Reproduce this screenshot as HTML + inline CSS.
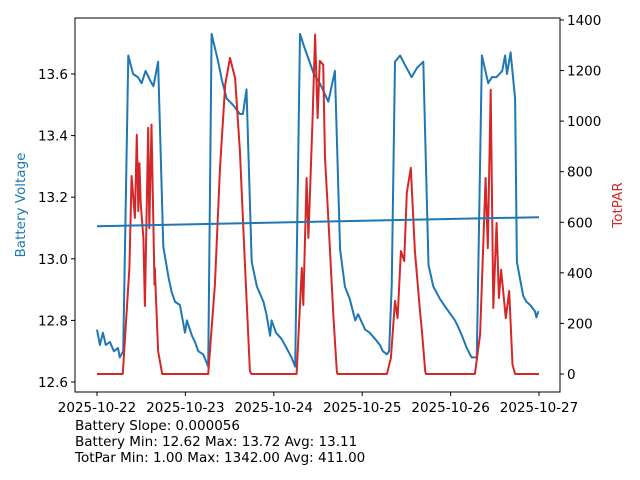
<!DOCTYPE html>
<html><head><meta charset="utf-8"><style>
body{margin:0;background:#fff;}
svg{display:block;font-family:"DejaVu Sans","Liberation Sans",sans-serif;}
</style></head><body>
<svg id="chart" width="640" height="480" viewBox="0 0 640 480">
<rect x="0" y="0" width="640" height="480" fill="#fff"/>
<g id="marks"></g>
<rect x="75" y="18" width="485" height="374" fill="none" stroke="#000" stroke-width="1"/>
<g id="axes"></g>
<text x="25" y="205" transform="rotate(-90 25 205)" text-anchor="middle" font-size="13.5" fill="#1f77b4">Battery Voltage</text>
<text x="622" y="205" transform="rotate(-90 622 205)" text-anchor="middle" font-size="13.5" fill="#d62728">TotPAR</text>
<text x="75" y="430" font-size="13.5" fill="#000">Battery Slope: 0.000056</text>
<text x="75" y="446" font-size="13.5" fill="#000">Battery Min: 12.62 Max: 13.72 Avg: 13.11</text>
<text x="75" y="462" font-size="13.5" fill="#000">TotPar Min: 1.00 Max: 1342.00 Avg: 411.00</text>
</svg>
<script>
const xTickLabels = ["2025-10-22","2025-10-23","2025-10-24","2025-10-25","2025-10-26","2025-10-27"];
const vTicks = [12.6,12.8,13.0,13.2,13.4,13.6];
const parTicks = [0,200,400,600,800,1000,1200,1400];
const voltHours = [0,0.8,1.6,2.4,3.5,4.6,5.7,6.2,7.1,8.5,9.8,11.1,12.1,13.2,14.4,15.3,16.6,18.0,19.4,20.3,21.2,22.5,23.9,24.4,25.8,26.6,27.5,28.8,29.5,30.2,31.1,32.9,33.9,35.2,36.9,38.8,39.6,40.6,42.0,43.4,45.2,46.0,47.0,47.4,48.6,50.1,51.0,51.9,52.8,53.8,55.1,56.5,57.4,58.9,60.5,62.8,64.6,66.0,67.3,68.6,70.1,70.9,72.8,74.0,75.5,76.8,77.6,78.7,79.3,80.0,80.9,82.3,83.6,85.4,86.9,88.6,90.0,91.3,93.1,94.2,95.4,97.2,98.0,99.1,100.4,101.7,103.1,104.5,106.2,107.2,108.5,110.0,110.8,111.3,112.3,113.5,114.0,115.7,116.6,117.6,118.9,119.3,119.8];
const voltValues = [12.77,12.72,12.76,12.72,12.73,12.70,12.71,12.68,12.70,13.66,13.60,13.59,13.57,13.61,13.58,13.56,13.64,13.04,12.94,12.89,12.86,12.85,12.76,12.80,12.75,12.73,12.70,12.69,12.67,12.65,13.73,13.64,13.58,13.52,13.50,13.47,13.47,13.55,12.99,12.91,12.86,12.82,12.75,12.80,12.76,12.74,12.72,12.70,12.68,12.65,13.73,13.68,13.65,13.60,13.57,13.51,13.61,13.03,12.91,12.87,12.80,12.82,12.77,12.76,12.74,12.72,12.70,12.69,12.70,12.91,13.64,13.66,13.63,13.59,13.62,13.64,12.98,12.91,12.87,12.85,12.83,12.80,12.78,12.75,12.71,12.68,12.68,13.66,13.57,13.59,13.59,13.61,13.66,13.60,13.67,13.52,12.99,12.88,12.86,12.85,12.83,12.81,12.83];
const trendHours = [0,120];
const trendValues = [13.106,13.135];
const parHours = [0,7.0,7.6,8.8,9.4,10.3,10.8,11.2,11.5,11.9,12.6,13.0,13.9,14.2,14.8,15.6,15.7,16.6,17.7,30.2,32.0,33.4,34.8,36.1,37.5,38.8,40.2,41.5,41.9,54.2,55.6,56.0,56.9,57.4,58.5,59.2,59.9,60.5,61.4,61.9,62.8,64.2,65.1,65.3,78.7,79.8,80.9,81.6,82.5,83.4,84.1,85.2,86.3,87.7,88.2,89.1,89.3,102.6,104.0,105.5,106.1,106.9,107.6,108.5,109.1,109.7,111.0,111.9,112.8,113.5,120];
const parValues = [0,0,142,419,783,617,946,644,834,668,538,269,973,577,986,353,419,91,0,0,353,815,1144,1250,1170,882,419,12,0,0,419,273,775,538,1000,1342,1012,1238,1223,854,617,221,12,0,0,63,289,221,486,447,716,815,486,249,170,12,0,0,156,775,498,1124,261,597,300,412,221,328,37,0,0];

const NS="http://www.w3.org/2000/svg";
const xs=h=>97+h*(442/120);
const yv=v=>382-(v-12.6)*308;
const yp=p=>374-p*0.2529;
const marks=document.getElementById('marks'), axes=document.getElementById('axes');
function mk(tag,attrs,parent){const e=document.createElementNS(NS,tag);for(const k in attrs)e.setAttribute(k,attrs[k]);parent.appendChild(e);return e;}
function line(hs,vs,yf,color,name){
  const d=hs.map((h,i)=>(i?'L':'M')+xs(h).toFixed(1)+','+yf(vs[i]).toFixed(1)).join('');
  const p=mk('path',{d:d,fill:'none',stroke:color,'stroke-width':2,'stroke-linejoin':'round'},marks);
  
  
}
line(voltHours,voltValues,yv,'#1f77b4','battery-voltage-line');
line(parHours,parValues,yp,'#d62728','totpar-line');
line(trendHours,trendValues,yv,'#1f77b4','battery-trend-line');
xTickLabels.forEach((t,i)=>{
  const x=xs(i*24);
  const tk=mk('line',{x1:x,x2:x,y1:392,y2:396,stroke:'#000'},axes);
  
  
  const tx=mk('text',{x:x,y:412,'text-anchor':'middle','font-size':13.5},axes);
  tx.textContent=t;
  
  
});
vTicks.forEach(v=>{
  const y=yv(v);
  const tk=mk('line',{x1:71,x2:75,y1:y,y2:y,stroke:'#000'},axes);
  
  
  const tx=mk('text',{x:68,y:y+5,'text-anchor':'end','font-size':13.5},axes);
  tx.textContent=v.toFixed(1);
  
  
});
parTicks.forEach(p=>{
  const y=yp(p);
  const tk=mk('line',{x1:560,x2:564,y1:y,y2:y,stroke:'#000'},axes);
  
  
  const tx=mk('text',{x:567,y:y+5,'text-anchor':'start','font-size':13.5},axes);
  tx.textContent=String(p);
  
  
});
</script>
</body></html>
